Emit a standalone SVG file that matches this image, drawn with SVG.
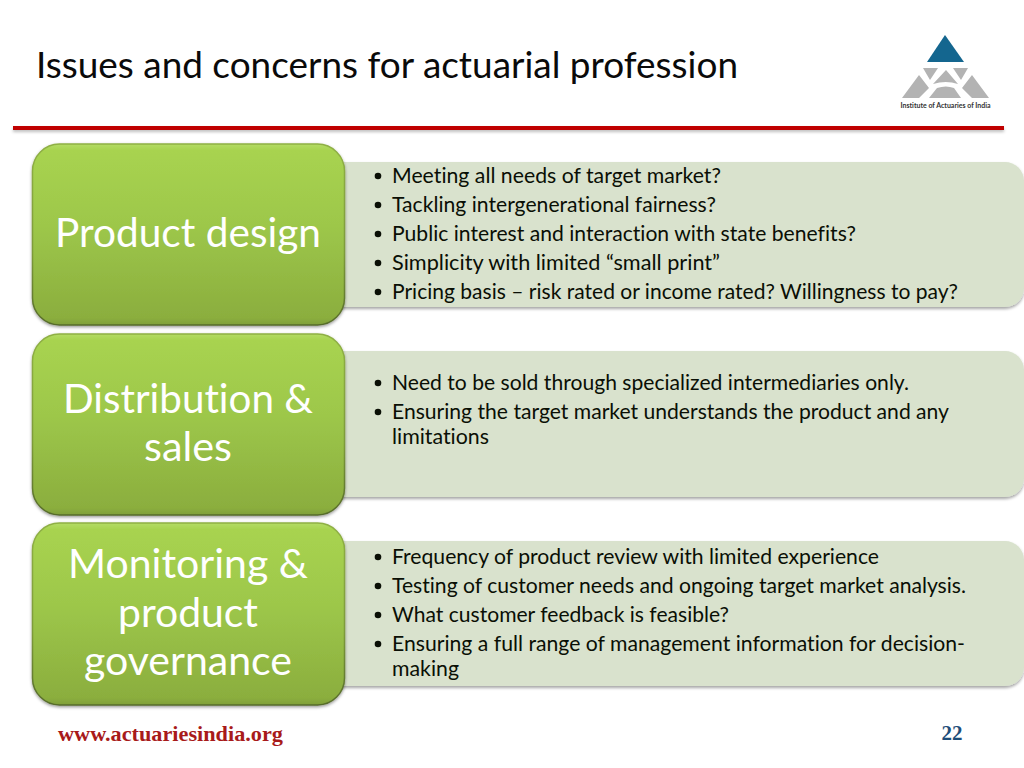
<svg xmlns="http://www.w3.org/2000/svg" width="1024" height="768" viewBox="0 0 1024 768">
<style>
text{font-family:"Lato","Liberation Sans",sans-serif;font-variant-ligatures:none}
.t{font-size:22px;fill:#0a0f05}
.h{font-size:41px;fill:#fff;text-anchor:middle}
.g{fill:url(#gr);stroke:url(#gs);stroke-width:1.5;filter:url(#sh)}
.p{fill:#d9e2cd;filter:url(#sp)}
.b{fill:#0a0f05}
.lg{fill:#b3b3b3}
</style>
<defs>
<linearGradient id="gr" x1="0" y1="0" x2="0" y2="1">
<stop offset="0" stop-color="#b4dc66"/><stop offset="0.035" stop-color="#a8d350"/><stop offset="0.45" stop-color="#9dc74a"/><stop offset="0.96" stop-color="#8bae3e"/><stop offset="1" stop-color="#7f9f38"/>
</linearGradient>
<linearGradient id="gs" x1="0" y1="0" x2="0" y2="1">
<stop offset="0" stop-color="#8fb044"/><stop offset="0.6" stop-color="#7d9b3a"/><stop offset="1" stop-color="#566b2a"/>
</linearGradient>
<filter id="sh" x="-5%" y="-5%" width="110%" height="112%"><feDropShadow dx="0" dy="1.5" stdDeviation="1.5" flood-color="#000" flood-opacity="0.4"/></filter>
<filter id="sp" x="-2%" y="-5%" width="104%" height="112%"><feDropShadow dx="0" dy="2" stdDeviation="1.5" flood-color="#000" flood-opacity="0.35"/></filter>
<filter id="rl" x="-2%" y="-100%" width="104%" height="400%"><feDropShadow dx="0" dy="2" stdDeviation="1.5" flood-color="#000" flood-opacity="0.25"/></filter>
</defs>
<rect width="1024" height="768" fill="#fff"/>
<g id="title"><text x="36" y="78" font-size="36" fill="#0a0a0a" textLength="702" lengthAdjust="spacingAndGlyphs">Issues and concerns for actuarial profession</text></g>
<rect id="rule" x="13" y="126" width="991" height="4" fill="#c00000" filter="url(#rl)"/>
<g id="logo">
<path d="M945 35L964 62H927Z" fill="#14668f"/>
<path class="lg" d="M923 68H938L930 80ZM953 68H968L961 80ZM946 70L958 84Q946 80 933 84ZM902 98L919 75L929 88L919 98ZM989 98L972 75L962 88L972 98ZM929 98L937 88Q946 85 954 88L961 98Z"/>
<text x="945.500" y="108" font-size="6.500" font-weight="700" fill="#333" text-anchor="middle" textLength="90" lengthAdjust="spacingAndGlyphs">Institute of Actuaries of India</text>
</g>
<g id="panel1">
<rect class="p" x="320" y="162" width="704" height="145" rx="19"/>
<text class="t" x="392" y="183" textLength="329" lengthAdjust="spacingAndGlyphs">Meeting all needs of target market?</text>
<text class="t" x="392" y="212" textLength="324" lengthAdjust="spacingAndGlyphs">Tackling intergenerational fairness?</text>
<text class="t" x="392" y="241" textLength="464" lengthAdjust="spacingAndGlyphs">Public interest and interaction with state benefits?</text>
<text class="t" x="392" y="270" textLength="328" lengthAdjust="spacingAndGlyphs">Simplicity with limited “small print”</text>
<text class="t" x="392" y="299" textLength="566" lengthAdjust="spacingAndGlyphs">Pricing basis – risk rated or income rated? Willingness to pay?</text>
<circle class="b" cx="378" cy="176" r="3.300"/><circle class="b" cx="378" cy="205" r="3.300"/><circle class="b" cx="378" cy="234" r="3.300"/><circle class="b" cx="378" cy="263" r="3.300"/><circle class="b" cx="378" cy="292" r="3.300"/>
</g>
<g id="panel2">
<rect class="p" x="320" y="351" width="704" height="146" rx="19"/>
<text class="t" x="392" y="390" textLength="517" lengthAdjust="spacingAndGlyphs">Need to be sold through specialized intermediaries only.</text>
<text class="t" x="392" y="419" textLength="557" lengthAdjust="spacingAndGlyphs">Ensuring the target market understands the product and any</text>
<text class="t" x="392" y="444" textLength="97" lengthAdjust="spacingAndGlyphs">limitations</text>
<circle class="b" cx="378" cy="383" r="3.300"/><circle class="b" cx="378" cy="412" r="3.300"/>
</g>
<g id="panel3">
<rect class="p" x="320" y="541" width="704" height="145" rx="19"/>
<text class="t" x="392" y="564" textLength="487" lengthAdjust="spacingAndGlyphs">Frequency of product review with limited experience</text>
<text class="t" x="392" y="593" textLength="574" lengthAdjust="spacingAndGlyphs">Testing of customer needs and ongoing target market analysis.</text>
<text class="t" x="392" y="622" textLength="337" lengthAdjust="spacingAndGlyphs">What customer feedback is feasible?</text>
<text class="t" x="392" y="651" textLength="573" lengthAdjust="spacingAndGlyphs">Ensuring a full range of management information for decision-</text>
<text class="t" x="392" y="676" textLength="67" lengthAdjust="spacingAndGlyphs">making</text>
<circle class="b" cx="378" cy="557" r="3.300"/><circle class="b" cx="378" cy="586" r="3.300"/><circle class="b" cx="378" cy="615" r="3.300"/><circle class="b" cx="378" cy="644" r="3.300"/>
</g>
<g id="node1">
<rect class="g" x="32.500" y="144" width="312" height="181" rx="27"/>
<text class="h" x="188" y="247" textLength="266" lengthAdjust="spacingAndGlyphs">Product design</text>
</g>
<g id="node2">
<rect class="g" x="32.500" y="334" width="312" height="181" rx="27"/>
<text class="h" x="188" y="413" textLength="250" lengthAdjust="spacingAndGlyphs">Distribution &amp;</text>
<text class="h" x="188" y="461" textLength="88" lengthAdjust="spacingAndGlyphs">sales</text>
</g>
<g id="node3">
<rect class="g" x="32.500" y="523" width="312" height="182" rx="27"/>
<text class="h" x="188" y="578" textLength="240" lengthAdjust="spacingAndGlyphs">Monitoring &amp;</text>
<text class="h" x="188" y="627" textLength="140" lengthAdjust="spacingAndGlyphs">product</text>
<text class="h" x="188" y="675" textLength="208" lengthAdjust="spacingAndGlyphs">governance</text>
</g>
<g id="footer">
<text x="58" y="741" font-size="22" font-weight="700" fill="#a81a1a" style="font-family:'Liberation Serif',serif" textLength="225" lengthAdjust="spacingAndGlyphs">www.actuariesindia.org</text>
<text x="952" y="740" font-size="21" font-weight="700" fill="#1f4e79" text-anchor="middle" style="font-family:'Liberation Serif',serif">22</text>
</g>
</svg>
